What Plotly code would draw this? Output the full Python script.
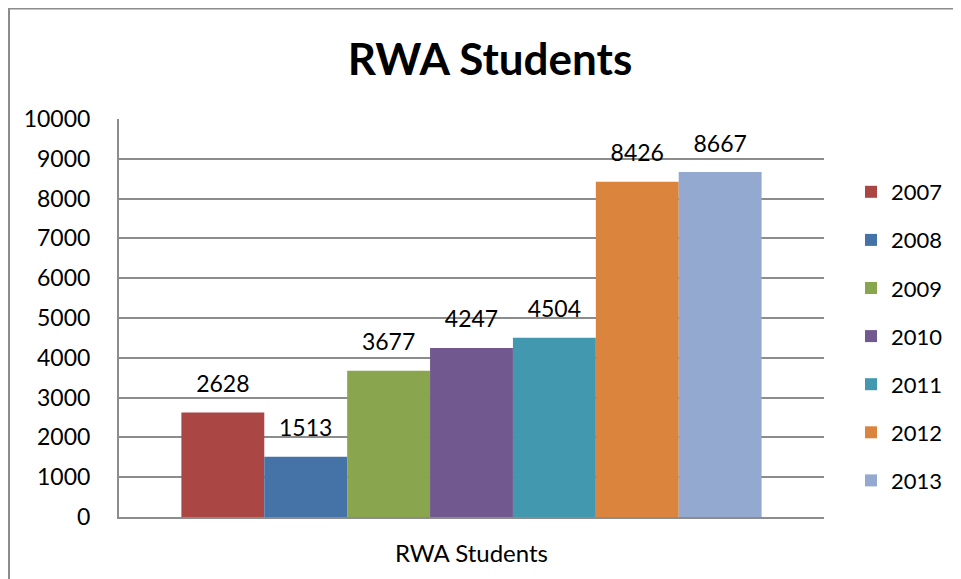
import plotly.graph_objects as go

years = ["2007", "2008", "2009", "2010", "2011", "2012", "2013"]
values = [2628, 1513, 3677, 4247, 4504, 8426, 8667]
colors = ["#AA4643", "#4572A7", "#89A54E", "#71588F", "#4198AF", "#DB843D", "#93A9CF"]
category = ["RWA Students"]
title_text = "RWA Students"

FONT = "Lato"
GRID = "#8c8c8c"

fig = go.Figure()
for yr, v, c in zip(years, values, colors):
    fig.add_trace(go.Bar(
        x=category, y=[v], name=yr, legendgroup=yr, offsetgroup=yr,
        marker=dict(color=c, line=dict(width=0)),
    ))
# data labels, aligned with the grouped bars
for yr, v in zip(years, values):
    fig.add_trace(go.Scatter(
        x=category, y=[v], mode="markers+text", offsetgroup=yr,
        text=[str(v)], textposition="top center",
        textfont=dict(family=FONT, size=23, color="#000000"),
        marker=dict(size=22, color="rgba(0,0,0,0)"),
        showlegend=False, hoverinfo="skip", cliponaxis=False,
    ))

# page has an 8px body margin; figure coordinates are page coordinates minus 8
W, H = 953, 571
L, T = 111, 111
R = W - 816
B = H - 509
pw, ph = W - L - R, H - T - B

fig.update_layout(
    width=W, height=H,
    margin=dict(l=L, r=R, t=T, b=B),
    paper_bgcolor="white", plot_bgcolor="white",
    barmode="group", bargap=0.177, bargroupgap=0,
    scattermode="group", scattergap=0.177,
    title=dict(text="<b>" + title_text + "</b>", x=482 / W, xanchor="center",
               y=1 - 52 / H, yanchor="middle",
               font=dict(family=FONT, size=44, color="#000000")),
    font=dict(family=FONT, size=22, color="#000000"),
    showlegend=True,
    legend=dict(x=(843 - L) / pw, xanchor="left", y=1 - (163 - T) / ph, yanchor="top",
                font=dict(family=FONT, size=22, color="#000000"),
                tracegroupgap=16.5, bgcolor="rgba(0,0,0,0)"),
    xaxis=dict(showgrid=False, showline=True, linecolor=GRID, linewidth=2,
               ticks="", ticklabelstandoff=14,
               tickfont=dict(family=FONT, size=24, color="#000000")),
    yaxis=dict(range=[0, 10000], dtick=1000, tickformat="d", showgrid=True,
               gridcolor=GRID, gridwidth=1.5,
               showline=True, linecolor=GRID, linewidth=2, ticks="",
               ticklabelstandoff=22, zeroline=False,
               tickfont=dict(family=FONT, size=23, color="#000000")),
    shapes=[dict(type="rect", xref="paper", yref="paper",
                 x0=(1 - L) / pw, x1=(990 - L) / pw,
                 y0=1 + (T - 0.5) / ph, y1=-(B + 30) / ph,
                 line=dict(color="#8c8c8c", width=2), fillcolor="rgba(0,0,0,0)", layer="below")],
)

fig.write_html("out.html")
